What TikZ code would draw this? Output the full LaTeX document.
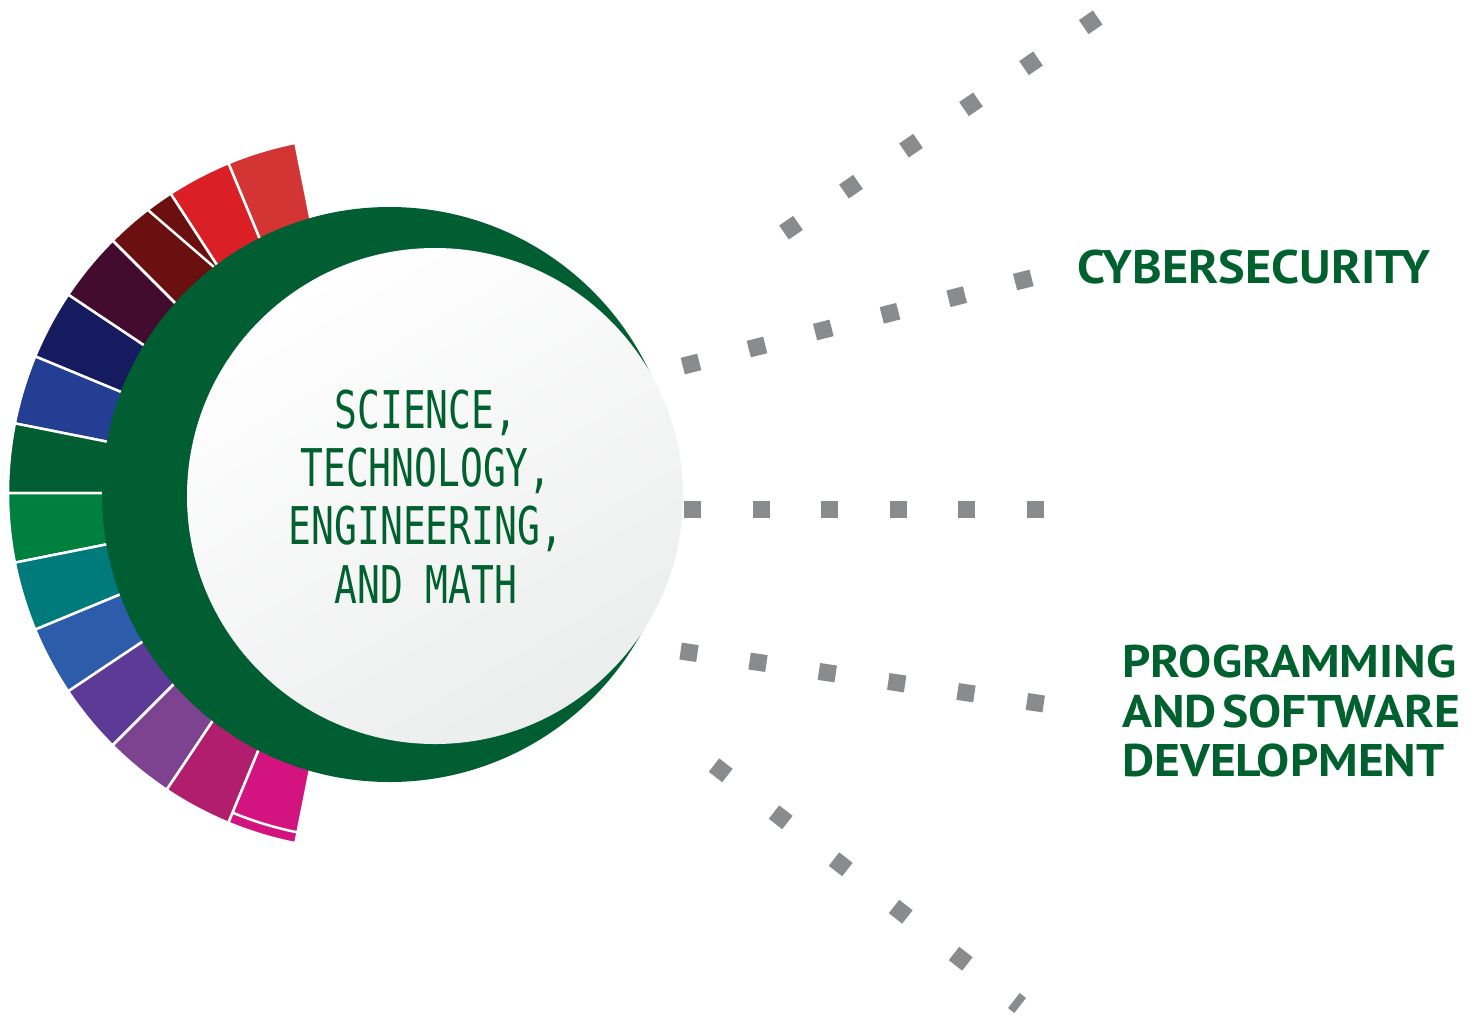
\documentclass[tikz,border=0pt]{standalone}
\usepackage{fontspec}
\usetikzlibrary{calc}
\newfontfamily\stemfont[FakeStretch=0.73]{DejaVu Sans Mono}
\newfontfamily\lblfont[FakeStretch=1.07, BoldFeatures={FakeStretch=1.07}]{PT Sans}
\newfontfamily\lblfontw[FakeStretch=1.085, BoldFeatures={FakeStretch=1.085}]{PT Sans}
\definecolor{stemgreen}{HTML}{005E32}
\definecolor{txtgreen}{HTML}{00612F}
\definecolor{sqgray}{HTML}{8A8B8D}
\definecolor{cA}{HTML}{D23533}
\definecolor{cB}{HTML}{DA1F26}
\definecolor{cC}{HTML}{6B1010}
\definecolor{cD}{HTML}{430C2E}
\definecolor{cE}{HTML}{161A5E}
\definecolor{cF}{HTML}{243E93}
\definecolor{cG}{HTML}{005E32}
\definecolor{cH}{HTML}{00803F}
\definecolor{cI}{HTML}{007A7A}
\definecolor{cJ}{HTML}{2D5DAA}
\definecolor{cK}{HTML}{5C3A96}
\definecolor{cL}{HTML}{7E4390}
\definecolor{cM}{HTML}{B11E6E}
\definecolor{cN}{HTML}{D31480}
\definecolor{shadegray}{HTML}{ECEDED}
\begin{document}
\begin{tikzpicture}[x=1pt,y=-1pt,
  seg/.style={draw=white, line width=2.5pt, line join=round},
  sepline/.style={draw=white, line width=2.5pt},
  sq/.style={fill=sqgray, inner sep=0pt, minimum size=17pt},
  lbl/.style={text=txtgreen, inner sep=0pt, align=left}]
\useasboundingbox (0,0) rectangle (1479,1015);
\coordinate (rc) at (365,493);
% coloured ring
\foreach \a/\b/\c in {101.25/112.5/cA, 112.5/123/cB, 123/135/cC, 135/146.25/cD,
  146.25/157.5/cE, 157.5/168.75/cF, 168.75/180/cG, 180/191.25/cH,
  191.25/202.5/cI, 202.5/213.75/cJ, 213.75/225/cK, 225/236.25/cL,
  236.25/247.5/cM, 247.5/258.75/cN}{
  \path[seg, fill=\c] (rc) -- ++(-\a:357) arc[start angle=-\a, end angle=-\b, radius=357] -- cycle;
}
\coordinate (w3o) at ($(rc)+(-127.5:357)$);
\coordinate (w3i) at (214,267);
\draw[sepline] (w3o) -- (w3i);
\coordinate (pkA) at ($(rc)+(-247.5:346)$);
\draw[sepline] (pkA) arc[start angle=-247.5, end angle=-258.75, radius=346];
% green disc and white disc
\fill[stemgreen] (389.5,494.5) circle[radius=287.5];
\shade[top color=white, bottom color=shadegray, shading angle=30] (435,496) circle[radius=248];
\node[font=\stemfont\fontsize{52}{58.3}\selectfont, text=txtgreen, align=center, inner sep=0pt] (stem) at (426,496.5) {SCIENCE,\\TECHNOLOGY,\\ENGINEERING,\\AND MATH};
% dotted rays
\foreach \x/\y [count=\i] in {791/227.7, 851/186.7, 911/145.7, 971/104.3, 1031/63.3, 1090.7/22.3}
  \node[sq, rotate=34.5] (a\i) at (\x,\y) {};
\foreach \x/\y [count=\i] in {691/364, 757/347, 823.3/330, 890/313.3, 956.7/296.7, 1023.3/280}
  \node[sq, rotate=14.2] (b\i) at (\x,\y) {};
\foreach \x [count=\i] in {692, 761, 829, 898, 966, 1035}
  \node[sq] (c\i) at (\x,509) {};
\foreach \x/\y [count=\i] in {689/652.3, 758/662.3, 827.3/672.7, 896.7/682.7, 966/692.7, 1035.3/702.7}
  \node[sq, rotate=-8.4] (d\i) at (\x,\y) {};
\foreach \x/\y [count=\i] in {720.7/770.3, 780.7/817.3, 840.7/864.3, 900.7/911.7, 960.7/958.7}
  \node[sq, rotate=-38] (e\i) at (\x,\y) {};
\node[fill=sqgray, inner sep=0pt, minimum width=8pt, minimum height=19pt, rotate=-38] (e6) at (1017,1003) {};
% labels
\node[lbl, font=\lblfont\bfseries\fontsize{47}{50}\selectfont, anchor=north west] (cyber) at (1077,250) {CYBERSECURITY};
\node[lbl, font=\lblfontw\bfseries\fontsize{45.7}{49.5}\selectfont, anchor=north west] (prog) at (1122,645) {PROGRAMMING\\AND\hspace{0.12em}SOFTWARE\\DEVELOPMENT};
\end{tikzpicture}
\end{document}
